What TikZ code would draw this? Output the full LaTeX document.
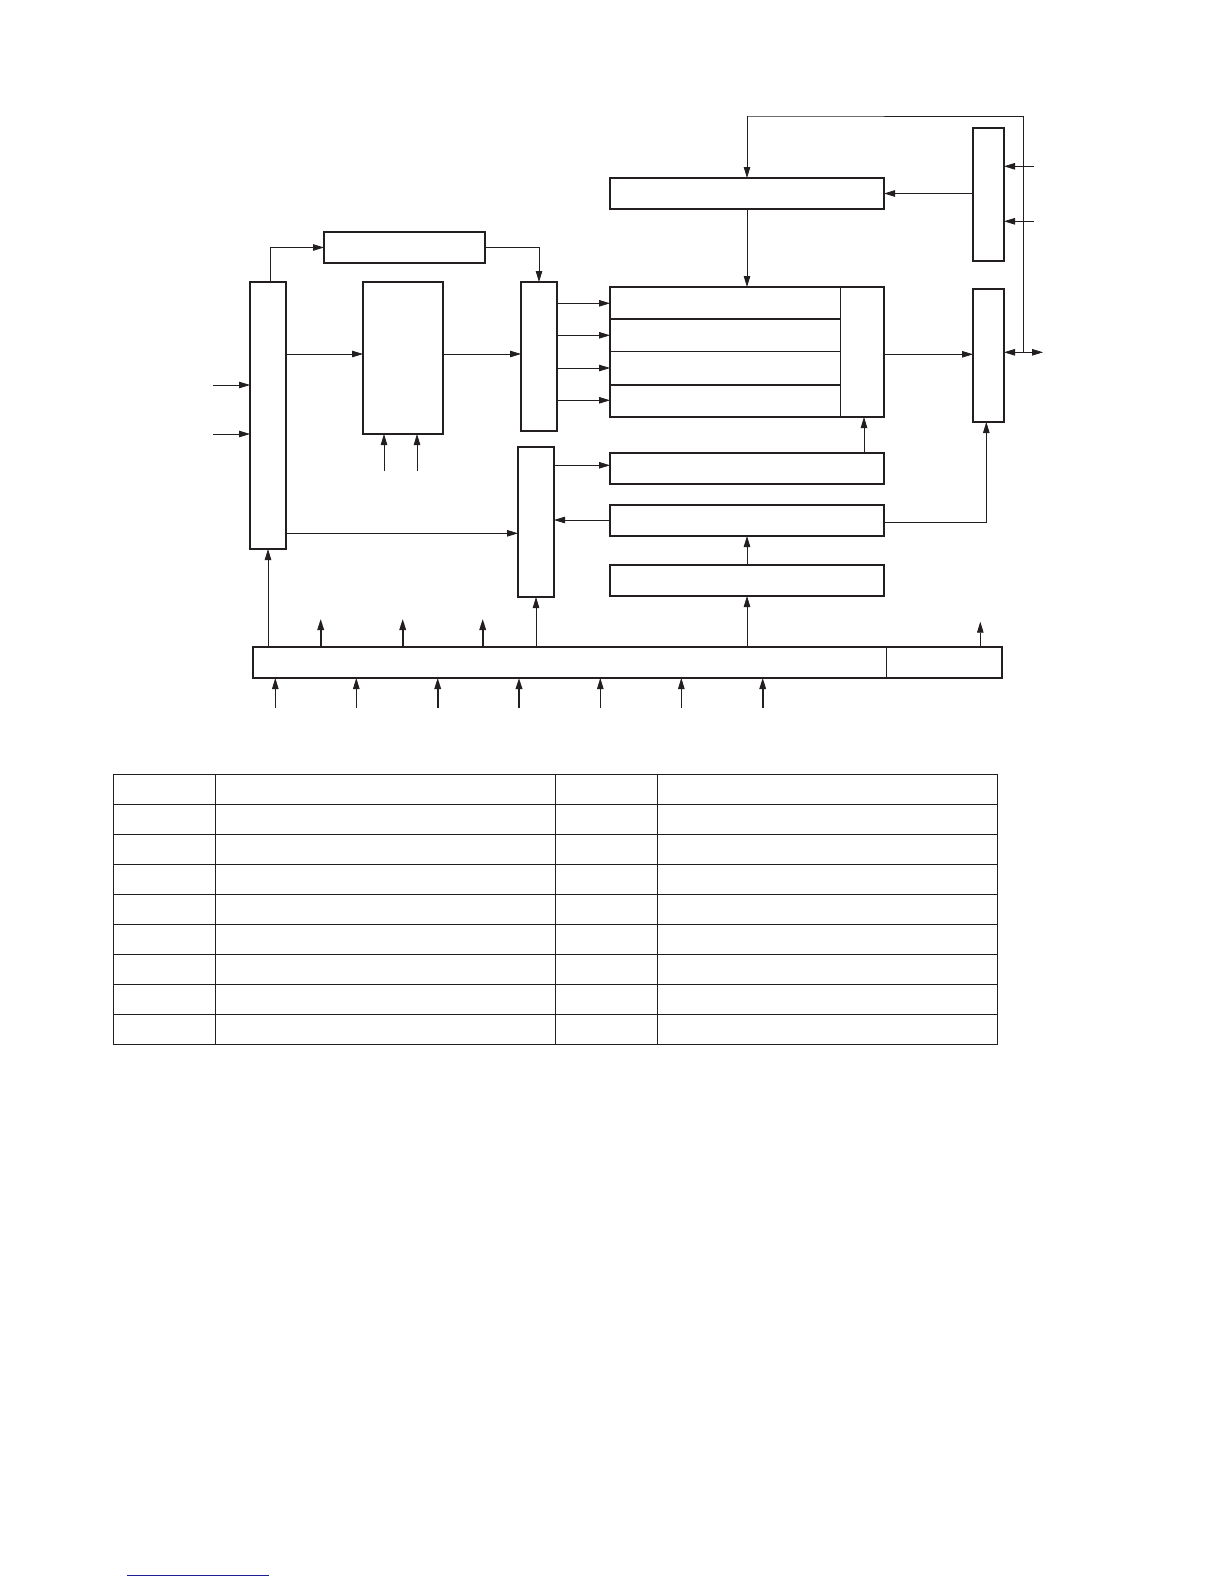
\documentclass[tikz,border=0pt]{standalone}
\usepackage{tikz}
\usetikzlibrary{arrows.meta}
\definecolor{ink}{RGB}{35,31,32}
\definecolor{linkblue}{RGB}{30,30,150}

\begin{document}
\begin{tikzpicture}
        [x = 1pt, y = -1pt, >= {Triangle[length = 11pt, width = 6.5pt]},
         line width = 0.8pt, draw = ink,
         blk/.style = {draw = ink, line width = 1.6pt, rectangle, inner sep = 0pt, outer sep = 0pt},
         fat/.style = {line width = 1.8pt}]
        \useasboundingbox (0,0) rectangle (1224,1584);
        % boxes
        \node[blk, minimum width = 36, minimum height = 267] (sel) at (268,415.5) {};
        \node[blk, minimum width = 161, minimum height = 31] (ctl) at (404.5,247.5) {};
        \node[blk, minimum width = 80, minimum height = 152] (core) at (403,358) {};
        \node[blk, minimum width = 36, minimum height = 149] (mux) at (539,356.5) {};
        \node[blk, minimum width = 36, minimum height = 150] (xb) at (536,522) {};
        \node[blk, minimum width = 274, minimum height = 31] (r1) at (747,193.5) {};
        \node[blk, minimum width = 274, minimum height = 130] (bk) at (747,352) {};
        \node[blk, minimum width = 274, minimum height = 31] (r2) at (747,468.5) {};
        \node[blk, minimum width = 274, minimum height = 31] (r3) at (747,520.5) {};
        \node[blk, minimum width = 274, minimum height = 31] (r4) at (747,580.5) {};
        \node[blk, minimum width = 31, minimum height = 133] (rt) at (988.5,194.5) {};
        \node[blk, minimum width = 31, minimum height = 133] (rb) at (988.5,355.5) {};
        \node[blk, minimum width = 749, minimum height = 31] (bar) at (627.5,662.5) {};
        % inner rows
        \draw (840,287) -- (840,417);
        \draw[line width = 1.6pt] (610,319) -- (840,319);
        \draw (610,351.3) -- (840,351.3);
        \draw[line width = 1.6pt] (610,385) -- (840,385);
        \draw (bar.north -| 886,0) -- (bar.south -| 886,0);
        % connectors
        \foreach \y [count = \i] in {385,434} {
          \coordinate (in\i) at (213,\y);
          \draw[->] (in\i) -- (in\i -| sel.west);
        }
        \draw[->] (sel.north -| 270,0) |- (ctl.west);
        \draw[->] (ctl.east) -| (mux.north);
        \draw[->] (sel.east |- 0,354) -- (core.west |- 0,354);
        \draw[->] (core.east |- 0,354) -- (mux.west |- 0,354);
        \foreach \y in {303.3,335.3,368,400.3}
          \draw[->] (mux.east |- 0,\y) -- (bk.west |- 0,\y);
        \foreach \x [count = \i] in {384,417} {
          \coordinate (ck\i) at (\x,471);
          \draw[->] (ck\i) -- (ck\i |- core.south);
        }
        \draw[->] (sel.east |- 0,533.3) -- (xb.west |- 0,533.3);
        \draw[->] (r1.south) -- (bk.north);
        \coordinate (jn) at (1023,352.3);
        \coordinate (io) at (1043,352.3);
        \draw[<->] (rb.east |- jn) -- (io);
        \draw[->] (jn) |- (748,116) -| (r1.north);
        \foreach \y [count = \i] in {166.3,221.3} {
          \coordinate (rin\i) at (1034,\y);
          \draw[->] (rin\i) -- (rin\i -| rt.east);
        }
        \draw[->] (rt.west |- r1.east) -- (r1.east);
        \draw[->] (bk.east |- 0,354.3) -- (rb.west |- 0,354.3);
        \draw[->] (r2.north -| 864,0) -- (bk.south -| 864,0);
        \draw[->] (xb.east |- 0,465.3) -- (r2.west |- 0,465.3);
        \draw[->] (r3.west |- 0,520) -- (xb.east |- 0,520);
        \draw[->] (r3.east |- 0,522.3) -| (rb.south -| 986.3,0);
        \draw[->] (r4.north) -- (r3.south);
        \draw[->] (bar.north -| r4) -- (r4.south);
        \draw[->] (bar.north -| xb) -- (xb.south);
        \draw[->] (bar.north -| sel) -- (sel.south);
        % stubs out of the bar
        \foreach \x [count = \i] in {320.7,402.7,482.7} {
          \coordinate (up\i) at (\x,619);
          \draw[->, fat] (bar.north -| up\i) -- (up\i);
        }
        \coordinate (up4) at (980.3,621.7);
        \draw[->] (bar.north -| up4) -- (up4);
        % inputs into the bar
        \foreach \x/\w [count = \i] in {275.3/0.8pt,356.3/0.8pt,437.7/1.8pt,519/1.8pt,600.3/0.8pt,681.3/0.8pt,762.7/1.8pt} {
          \coordinate (bin\i) at (\x,707.7);
          \draw[->, line width = \w] (bin\i) -- (bin\i |- bar.south);
        }
        % table
        \draw[line width = 1pt] (113.3,774.3) rectangle (997.3,1044.3);
        \foreach \k in {1,...,8}
          \draw[line width = 0.9pt] (113.3,774.3+30*\k) -- (997.3,774.3+30*\k);
        \foreach \x in {215.3,555.3,657.3}
          \draw[line width = 0.9pt] (\x,774.3) -- (\x,1044.3);
        \draw[linkblue, line width = 1pt] (127.3,1575) -- (269,1575);
      \end{tikzpicture}
\end{document}
